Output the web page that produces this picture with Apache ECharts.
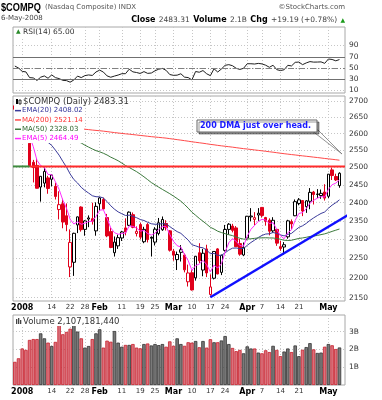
<!DOCTYPE html>
<html><head><meta charset="utf-8">
<script src="https://cdn.jsdelivr.net/npm/echarts@6/dist/echarts.min.js"></script>
<style>html,body{margin:0;padding:0;background:#fff}#c{width:382px;height:400px}</style>
</head><body><div id="c"></div>
<script>
// ---------------- DATA ----------------
const dates = ['2007-12-28','2007-12-31','2008-01-02','2008-01-03','2008-01-04','2008-01-07','2008-01-08','2008-01-09','2008-01-10','2008-01-11','2008-01-14','2008-01-15','2008-01-16','2008-01-17','2008-01-18','2008-01-22','2008-01-23','2008-01-24','2008-01-25','2008-01-28','2008-01-29','2008-01-30','2008-01-31','2008-02-01','2008-02-04','2008-02-05','2008-02-06','2008-02-07','2008-02-08','2008-02-11','2008-02-12','2008-02-13','2008-02-14','2008-02-15','2008-02-19','2008-02-20','2008-02-21','2008-02-22','2008-02-25','2008-02-26','2008-02-27','2008-02-28','2008-02-29','2008-03-03','2008-03-04','2008-03-05','2008-03-06','2008-03-07','2008-03-10','2008-03-11','2008-03-12','2008-03-13','2008-03-14','2008-03-17','2008-03-18','2008-03-19','2008-03-20','2008-03-24','2008-03-25','2008-03-26','2008-03-27','2008-03-28','2008-03-31','2008-04-01','2008-04-02','2008-04-03','2008-04-04','2008-04-07','2008-04-08','2008-04-09','2008-04-10','2008-04-11','2008-04-14','2008-04-15','2008-04-16','2008-04-17','2008-04-18','2008-04-21','2008-04-22','2008-04-23','2008-04-24','2008-04-25','2008-04-28','2008-04-29','2008-04-30','2008-05-01','2008-05-02','2008-05-05','2008-05-06'];
const openP = [2685,2668,2653,2611,2571,2515,2506,2444,2455,2470,2466,2446,2381,2397,2364,2228,2240,2339,2388,2327,2355,2356,2323,2397,2409,2359,2321,2265,2283,2304,2331,2338,2367,2316,2340,2294,2340,2306,2293,2316,2326,2343,2323,2269,2247,2266,2259,2190,2213,2200,2265,2220,2275,2158,2199,2275,2214,2271,2327,2336,2331,2289,2259,2304,2361,2354,2366,2387,2359,2352,2323,2327,2281,2280,2307,2348,2364,2398,2406,2389,2404,2430,2423,2420,2430,2418,2493,2474,2448];
const highP = [2694,2674,2661,2624,2572,2522,2527,2474.8,2500,2476,2480,2456,2432,2411,2398,2327,2318,2362,2390,2352,2365,2400,2401,2416,2414,2369,2332,2308,2313,2323,2357,2376,2373,2335,2345,2334,2344,2308,2333,2358,2362,2352,2325,2275,2268,2285,2263,2234,2220,2256.5,2290,2275,2286,2209,2268.5,2277,2260,2339,2344,2342,2336,2301,2292,2363.5,2385,2374,2385,2388,2361,2357,2360,2328,2296,2293,2353,2354,2409,2413,2407,2407,2441,2433,2438,2437,2452,2481,2499,2482,2486];
const lowP = [2653,2650,2597,2592,2502,2457,2440,2403,2443,2425,2446,2409,2354,2330,2322,2202,2205,2317,2321,2310,2333,2340,2310,2378,2381,2306,2277,2255,2275,2296,2311,2336,2330,2308,2300,2290,2292,2255,2284,2311,2323,2324,2268,2244,2220,2242,2214,2178,2168,2193,2238,2204,2202,2155,2196,2209,2207,2268,2313,2319,2280,2257,2256,2298,2349,2338,2350,2359,2337,2311,2318,2283,2270,2260,2302,2328,2363,2393,2363,2372,2382,2395,2413,2411,2406,2413,2464,2461,2442];
const closeP = [2674.46,2652.28,2609.63,2602.68,2504.65,2499.46,2440.51,2474.55,2488.52,2439.94,2478.30,2417.59,2394.59,2346.90,2340.02,2292.27,2316.41,2360.92,2326.20,2349.91,2358.06,2349.00,2389.86,2413.36,2382.85,2309.57,2278.75,2293.03,2304.85,2320.06,2320.04,2373.93,2332.54,2321.80,2306.20,2327.10,2299.78,2303.35,2327.48,2344.99,2353.78,2331.57,2271.48,2258.60,2260.28,2272.81,2220.50,2212.49,2169.34,2255.76,2243.87,2263.61,2212.49,2177.01,2268.26,2209.96,2258.11,2326.75,2341.05,2324.36,2280.83,2261.18,2279.10,2362.75,2363.30,2358.91,2370.98,2364.83,2348.76,2322.12,2351.70,2290.24,2275.82,2286.04,2350.11,2341.83,2402.97,2408.04,2376.94,2405.21,2428.92,2422.93,2424.40,2426.15,2412.80,2480.71,2476.72,2464.12,2483.31];
const prevClose0 = 2676.79;
const volumeB = [1.30,1.50,2.05,1.97,2.53,2.58,2.58,2.90,2.62,2.38,2.19,2.42,3.37,2.85,2.98,3.16,3.37,3.00,2.62,2.10,2.19,2.58,2.90,3.13,2.10,2.49,2.43,3.03,2.38,2.15,2.25,2.25,2.30,2.10,2.06,2.30,2.33,2.22,2.30,2.24,2.30,2.15,2.45,2.20,2.62,2.30,2.20,2.40,2.38,2.47,2.12,2.47,2.10,2.57,2.40,2.40,2.50,2.75,2.30,2.08,1.90,1.97,1.78,2.17,2.05,2.05,1.82,1.78,1.95,1.85,2.20,1.97,1.62,1.88,2.05,1.85,2.22,1.62,1.98,2.13,2.35,2.00,1.80,1.82,2.15,2.30,2.23,2.02,2.10718144];
const rsi14 = [53.5,50.0,44.0,43.1,32.9,32.4,27.9,33.7,35.9,31.8,37.8,32.9,31.2,28.1,27.6,24.8,28.8,35.6,33.0,36.5,37.7,36.8,43.0,46.2,42.8,36.0,33.6,35.7,37.5,39.9,39.9,47.9,43.2,42.0,40.3,43.6,40.5,41.1,45.1,47.9,49.3,45.9,38.4,37.0,37.3,39.8,33.8,33.0,28.9,43.8,42.5,45.5,39.8,36.4,48.6,42.9,48.3,54.8,56.0,54.1,49.5,47.5,49.5,57.6,57.6,57.1,58.2,57.3,55.0,51.3,54.9,47.1,45.5,46.9,54.8,53.7,60.1,60.6,56.0,59.1,61.4,60.5,60.6,60.9,58.3,66.0,65.2,62.8,65.00];
const ema20 = [2670.4,2668.7,2663.1,2657.3,2642.8,2629.2,2611.2,2598.2,2587.8,2573.7,2564.6,2550.6,2535.8,2517.8,2500.9,2481.0,2465.3,2455.4,2443.1,2434.2,2427.0,2419.5,2416.7,2416.4,2413.2,2403.3,2391.5,2382.1,2374.7,2369.5,2364.8,2365.7,2362.5,2358.7,2353.7,2351.1,2346.3,2342.2,2340.8,2341.2,2342.4,2341.3,2334.7,2327.4,2321.0,2316.4,2307.3,2298.3,2286.0,2283.1,2279.4,2277.9,2271.6,2262.6,2263.2,2258.1,2258.1,2264.7,2271.9,2276.9,2277.3,2275.8,2276.1,2284.3,2291.9,2298.2,2305.2,2310.8,2314.5,2315.2,2318.7,2316.0,2312.1,2309.6,2313.5,2316.2,2324.5,2332.4,2336.7,2343.2,2351.3,2358.2,2364.5,2370.3,2374.4,2384.5,2393.3,2400.0,2408.02];
const ma200 = [2640.5,2639.3,2638.1,2636.9,2635.2,2633.8,2632.1,2630.8,2629.6,2628.0,2626.8,2625.2,2623.7,2622.0,2620.4,2618.6,2617.2,2616.0,2614.5,2613.2,2612.0,2610.7,2609.6,2608.6,2607.4,2606.0,2604.5,2603.1,2601.8,2600.5,2599.3,2598.3,2597.0,2595.8,2594.5,2593.3,2592.0,2590.8,2589.7,2588.6,2587.6,2586.4,2584.9,2583.4,2581.9,2580.4,2578.8,2577.2,2575.4,2574.0,2572.5,2571.1,2569.5,2567.7,2566.4,2564.8,2563.4,2562.1,2560.8,2559.5,2558.0,2556.5,2555.1,2553.9,2552.6,2551.3,2550.0,2548.7,2547.3,2545.9,2544.6,2543.1,2541.6,2540.2,2538.9,2537.6,2536.4,2535.1,2533.8,2532.6,2531.4,2530.1,2528.9,2527.6,2526.2,2525.0,2523.8,2522.5,2521.14];
const ma50 = [2687.6,2684.7,2682.4,2679.3,2673.4,2667.9,2661.8,2655.2,2648.6,2641.1,2633.5,2625.9,2617.6,2608.7,2599.0,2589.8,2582.3,2576.9,2571.8,2565.3,2559.6,2554.2,2549.2,2545.7,2541.4,2536.3,2530.0,2525.0,2519.5,2512.7,2505.7,2500.0,2493.9,2487.9,2480.7,2473.1,2465.0,2456.7,2450.2,2443.6,2437.3,2431.3,2425.2,2418.5,2411.6,2404.3,2394.9,2384.9,2373.8,2365.4,2356.8,2349.0,2341.1,2332.6,2327.9,2322.1,2318.5,2315.5,2312.6,2310.3,2306.3,2303.2,2300.9,2301.2,2301.7,2303.0,2304.1,2304.2,2304.6,2304.1,2303.9,2302.7,2300.5,2297.9,2297.3,2297.9,2300.4,2302.7,2304.1,2305.8,2308.0,2309.0,2310.8,2312.9,2315.0,2318.1,2321.6,2324.8,2328.03];
const ema5 = [2681.5,2671.8,2651.1,2635.0,2591.6,2560.9,2520.8,2505.4,2499.8,2479.8,2479.3,2458.7,2437.3,2407.2,2384.8,2354.0,2341.5,2348.0,2340.7,2343.8,2348.6,2348.7,2362.4,2379.4,2380.6,2356.9,2330.9,2318.3,2313.8,2315.9,2317.3,2336.2,2335.0,2330.6,2322.5,2324.0,2315.9,2311.7,2317.0,2326.3,2335.5,2334.2,2313.3,2295.1,2283.5,2279.9,2260.1,2244.2,2219.2,2231.4,2235.6,2244.9,2234.1,2215.1,2232.8,2225.2,2236.2,2266.4,2291.3,2302.3,2295.1,2283.8,2282.2,2309.1,2327.2,2337.8,2348.9,2354.2,2352.4,2342.3,2345.4,2327.0,2309.9,2301.9,2318.0,2325.9,2351.6,2370.4,2372.6,2383.5,2398.6,2406.7,2412.6,2417.1,2415.7,2437.4,2450.5,2455.0,2464.49];

const priceTicks = [2150,2200,2250,2300,2350,2400,2450,2500,2550,2600,2650,2700];
const priceMin = 2141.8, priceMax = 2715.7;
const rsiTicks = [10,30,50,70,90];
const rsiMin = 5.6, rsiMax = 122.9;
const volumeTicks = [1,2,3];
const volumeMax = 3.93;
const xLabelDates = ['2008-01-02','2008-01-14','2008-01-22','2008-01-28','2008-02-01','2008-02-11','2008-02-19','2008-02-25','2008-03-03','2008-03-10','2008-03-17','2008-03-24','2008-04-01','2008-04-07','2008-04-14','2008-04-21','2008-05-01'];
const xLabelTexts = ['2008','14','22','28','Feb','11','19','25','Mar','10','17','24','Apr','7','14','21','May'];
const xLabelBold = ['2008','Feb','Mar','Apr','May'];
const resistanceLevel = 2503;
const resistanceGreenUntil = '2008-01-04';
const trendFrom = ['2008-03-17', 2151];
const trendThrough = ['2008-05-06', 2352];
const trendExtendSlots = 10;
const calloutText = '200 DMA just over head.';

// ---------------- BUILD ----------------
const FONT = 'DejaVu Sans';
const slots = dates.concat(['']);
const nSlots = slots.length;
const slotOf = d => dates.indexOf(d);
const lnv = v => Math.log(v);
const labelMap = {}; xLabelDates.forEach((d, i) => labelMap[d] = xLabelTexts[i]);
const gridSlots = xLabelDates.map(slotOf);
const last = dates.length - 1;

const C_EMA20 = '#3a3a9a', C_MA200 = '#ff4a4a', C_MA50 = '#3d7a3d', C_EMA5 = '#ff2cff';
const nEMA20 = 'EMA(20) ' + ema20[last].toFixed(2);
const nMA200 = 'MA(200) ' + ma200[last].toFixed(2);
const nMA50 = 'MA(50) ' + ma50[last].toFixed(2);
const nEMA5 = 'EMA(5) ' + ema5[last].toFixed(2);

const candleData = dates.map((d, i) => {
  const o = openP[i], c = closeP[i];
  const pc = i === 0 ? prevClose0 : closeP[i - 1];
  const col = c >= pc ? '#000000' : '#e0001b';
  const fill = c > o ? '#ffffff' : col;
  return { value: [lnv(o), lnv(c), lnv(lowP[i]), lnv(highP[i])],
    itemStyle: { color: fill, color0: fill, borderColor: col, borderColor0: col, borderWidth: 1 } };
});
const volData = dates.map((d, i) => {
  const pc = i === 0 ? prevClose0 : closeP[i - 1];
  const up = closeP[i] >= pc;
  return { value: volumeB[i], itemStyle: up ? { color: '#7a7a7a', borderColor: '#333333', borderWidth: 0.8 }
                                            : { color: '#d9727c', borderColor: '#c8202c', borderWidth: 0.8 } };
});

const tS = slotOf(trendFrom[0]), tT = slotOf(trendThrough[0]);
const tSlope = (lnv(trendThrough[1]) - lnv(trendFrom[1])) / (tT - tS);
const tEnd = nSlots - 0.5 + trendExtendSlots;
const trendData = [[tS, lnv(trendFrom[1])], [tEnd, lnv(trendFrom[1]) + tSlope * (tEnd - tS)]];
const gEnd = slotOf(resistanceGreenUntil);

const dotted = { color: '#c6c6c6', type: [1, 2], width: 1 };

function catAxis(gi, showLabels) {
  return {
    type: 'category', gridIndex: gi, data: slots, boundaryGap: true,
    axisLine: { show: false }, axisTick: { show: false }, splitLine: { show: false },
    axisLabel: showLabels ? {
      show: true, interval: (i, v) => labelMap[v] !== undefined, margin: 3,
      formatter: v => { const t = labelMap[v]; if (t === undefined) return ''; return xLabelBold.includes(t) ? '{b|' + t + '}' : '{n|' + t + '}'; },
      rich: { b: { fontFamily: FONT, fontWeight: 'bold', fontSize: 8, color: '#000' },
              n: { fontFamily: FONT, fontSize: 7, color: '#333' } }
    } : { show: false }
  };
}
function gridXAxis(gi) {
  return { type: 'value', gridIndex: gi, position: 'top', min: -0.5, max: nSlots - 0.5,
    axisLine: { show: false }, axisLabel: { show: false, customValues: gridSlots },
    axisTick: { show: false, customValues: gridSlots }, splitLine: { show: true, lineStyle: dotted } };
}
const yLabel = { fontFamily: FONT, fontSize: 7.5, color: '#333', margin: 4 };

const gridBox = { show: true, borderColor: '#a8a8a8', borderWidth: 1, backgroundColor: 'transparent' };
const option = {
  animation: false,
  backgroundColor: '#ffffff',
  grid: [
    Object.assign({ left: 13, width: 332, top: 27, height: 66 }, gridBox),
    Object.assign({ left: 13, width: 332, top: 96, height: 205 }, gridBox),
    Object.assign({ left: 13, width: 332, top: 315, height: 70 }, gridBox)
  ],
  xAxis: [catAxis(0, false), gridXAxis(0), catAxis(1, true), gridXAxis(1), catAxis(2, true), gridXAxis(2)],
  yAxis: [
    { type: 'value', gridIndex: 0, position: 'right', min: rsiMin, max: rsiMax,
      axisLine: { show: false }, axisTick: { show: false, customValues: rsiTicks },
      axisLabel: Object.assign({ customValues: rsiTicks }, yLabel), splitLine: { show: true, lineStyle: dotted } },
    { type: 'value', gridIndex: 1, position: 'right', min: lnv(priceMin), max: lnv(priceMax),
      axisLine: { show: false }, axisTick: { show: false, customValues: priceTicks.map(lnv) },
      axisLabel: Object.assign({ customValues: priceTicks.map(lnv), formatter: v => String(Math.round(Math.exp(v))) }, yLabel),
      splitLine: { show: true, lineStyle: dotted } },
    { type: 'value', gridIndex: 2, position: 'right', min: 0, max: volumeMax,
      axisLine: { show: false }, axisTick: { show: false, customValues: volumeTicks },
      axisLabel: Object.assign({ customValues: volumeTicks, formatter: v => v + 'B' }, yLabel),
      splitLine: { show: true, lineStyle: dotted } }
  ],
  legend: {
    data: [
      { name: nEMA20, textStyle: { color: '#333399' } },
      { name: nMA200, textStyle: { color: '#ff3030' } },
      { name: nMA50, textStyle: { color: '#2f662f' } },
      { name: nEMA5, textStyle: { color: '#ff00ff' } }
    ],
    orient: 'vertical', left: 15, top: 106, itemWidth: 6, itemHeight: 1.5, itemGap: 0, icon: 'rect',
    selectedMode: false, padding: 0, z: 60,
    textStyle: { fontFamily: FONT, fontSize: 7, lineHeight: 9.3, padding: [0, 0, 0, -4] }
  },
  series: [
    { type: 'line', name: 'RSI', xAxisIndex: 0, yAxisIndex: 0, data: rsi14, symbol: 'none',
      lineStyle: { color: '#1e1e1e', width: 1 }, color: '#1e1e1e',
      markLine: { symbol: 'none', silent: true, label: { show: false },
        lineStyle: { color: '#707070', width: 1, type: 'solid' },
        data: [{ yAxis: 70 }, { yAxis: 50, lineStyle: { type: [6, 2, 1, 2], color: '#808080' } }, { yAxis: 30 }] } },
    { type: 'candlestick', name: 'COMPQ', xAxisIndex: 2, yAxisIndex: 1, data: candleData, barWidth: 3 },
    { type: 'line', name: nEMA20, xAxisIndex: 2, yAxisIndex: 1, data: ema20.map(lnv), symbol: 'none', color: C_EMA20, lineStyle: { width: 1 } },
    { type: 'line', name: nMA200, xAxisIndex: 2, yAxisIndex: 1, data: ma200.map(lnv), symbol: 'none', color: C_MA200, lineStyle: { width: 1 } },
    { type: 'line', name: nMA50, xAxisIndex: 2, yAxisIndex: 1, data: ma50.map(lnv), symbol: 'none', color: C_MA50, lineStyle: { width: 1 } },
    { type: 'line', name: nEMA5, xAxisIndex: 2, yAxisIndex: 1, data: ema5.map(lnv), symbol: 'none', color: C_EMA5, lineStyle: { width: 1 } },
    { type: 'line', name: 'res', xAxisIndex: 3, yAxisIndex: 1, symbol: 'none', z: 3,
      data: [[gEnd, lnv(resistanceLevel)], [nSlots - 0.5, lnv(resistanceLevel)]], lineStyle: { color: '#ff2b2b', width: 2 } },
    { type: 'line', name: 'res0', xAxisIndex: 3, yAxisIndex: 1, symbol: 'none', z: 3,
      data: [[-0.5, lnv(resistanceLevel)], [gEnd, lnv(resistanceLevel)]], lineStyle: { color: '#3d8a3d', width: 2 } },
    { type: 'line', name: 'trend', xAxisIndex: 3, yAxisIndex: 1, symbol: 'none', clip: false, z: 5,
      data: trendData, lineStyle: { color: '#1010ff', width: 2.5 } },
    { type: 'bar', name: 'Volume', xAxisIndex: 4, yAxisIndex: 2, data: volData, barCategoryGap: '6%' }
  ],
  graphic: { elements: [] }
};

// header texts
const mon = ['Jan','Feb','Mar','Apr','May','Jun','Jul','Aug','Sep','Oct','Nov','Dec'];
const ld = dates[last].split('-');
const dateStr = (+ld[2]) + '-' + mon[+ld[1] - 1] + '-' + ld[0];
const chg = closeP[last] - closeP[last - 1];
const chgPct = chg / closeP[last - 1] * 100;
const volStr = Math.round(volumeB[last] * 1e9).toLocaleString('en-US');
const G = option.graphic.elements;
G.push({ type: 'text', x: 1, y: 2, scaleX: 0.8, z: 80, style: { text: '$COMPQ', fontFamily: 'Liberation Sans', fontWeight: 'bold', fontSize: 11.5, fill: '#000' } });
G.push({ type: 'text', left: 45, top: 4, z: 80, style: { text: '(Nasdaq Composite) INDX', fontFamily: FONT, fontSize: 7, fill: '#555' } });
G.push({ type: 'text', right: 37, top: 4, z: 80, style: { text: '\u00a9StockCharts.com', fontFamily: FONT, fontSize: 7, fill: '#555' } });
G.push({ type: 'text', left: 1, top: 15, z: 80, style: { text: dateStr, fontFamily: FONT, fontSize: 7, fill: '#444' } });
G.push({ type: 'text', right: 37, top: 14, z: 80, style: {
  text: '{b|Close} {n|' + closeP[last].toFixed(2) + '} {b|Volume} {n|' + (volumeB[last]).toFixed(1) + 'B} {b|Chg} {n|' + (chg >= 0 ? '+' : '') + chg.toFixed(2) + ' (' + (chg >= 0 ? '+' : '') + chgPct.toFixed(2) + '%)} {g|\u25b2}',
  rich: { b: { fontFamily: FONT, fontWeight: 'bold', fontSize: 8, fill: '#000' }, n: { fontFamily: FONT, fontSize: 7.5, fill: '#444' }, g: { fontFamily: FONT, fontSize: 6, fill: '#1a9a1a' } } } });
// RSI label
G.push({ type: 'rect', z: 50, shape: { x: 14, y: 28, width: 66, height: 9 }, style: { fill: '#fff' } });
G.push({ type: 'text', left: 16, top: 28, z: 80, style: { text: '\u25b2', fontFamily: FONT, fontSize: 6, fill: '#2a8a2a' } });
G.push({ type: 'text', left: 23, top: 28, z: 80, style: { text: 'RSI(14) ' + rsi14[last].toFixed(2), fontFamily: FONT, fontSize: 7.5, fill: '#333' } });
// main label box
G.push({ type: 'rect', z: 50, shape: { x: 14, y: 97, width: 70, height: 46 }, style: { fill: '#fff' } });
G.push({ type: 'rect', z: 80, shape: { x: 16, y: 99, width: 2, height: 5 }, style: { fill: '#000' } });
G.push({ type: 'rect', z: 80, shape: { x: 19, y: 100, width: 2, height: 4 }, style: { fill: '#fff', stroke: '#000', lineWidth: 0.8 } });
G.push({ type: 'text', left: 23, top: 97, z: 80, style: { text: '$COMPQ (Daily) ' + closeP[last].toFixed(2), fontFamily: FONT, fontSize: 8.5, fill: '#333' } });
// volume label
G.push({ type: 'rect', z: 50, shape: { x: 14, y: 316, width: 118, height: 10 }, style: { fill: '#fff' } });
G.push({ type: 'rect', z: 80, shape: { x: 16, y: 319, width: 1.3, height: 5 }, style: { fill: '#444' } });
G.push({ type: 'rect', z: 80, shape: { x: 18, y: 318, width: 1.3, height: 6 }, style: { fill: '#444' } });
G.push({ type: 'rect', z: 80, shape: { x: 20, y: 320, width: 1.3, height: 4 }, style: { fill: '#444' } });
G.push({ type: 'text', left: 23, top: 317, z: 80, style: { text: 'Volume ' + volStr, fontFamily: FONT, fontSize: 8.5, fill: '#333' } });
// callout
G.push({ type: 'polygon', z: 70, shape: { points: [[311, 130], [318, 130], [342, 154]] }, style: { fill: '#fff', stroke: '#777', lineWidth: 0.8 } });
G.push({ type: 'rect', z: 71, shape: { x: 197, y: 120, width: 120, height: 12 }, style: { fill: '#fff', stroke: '#666', lineWidth: 1, shadowColor: 'rgba(0,0,0,0.4)', shadowOffsetX: 2, shadowOffsetY: 2 } });
G.push({ type: 'text', left: 200, top: 122, z: 72, style: { text: calloutText, fontFamily: FONT, fontWeight: 'bold', fontSize: 8, fill: '#1a1aff' } });

const chart = echarts.init(document.getElementById('c'), null, { renderer: 'canvas' });
chart.setOption(option);
</script></body></html>
